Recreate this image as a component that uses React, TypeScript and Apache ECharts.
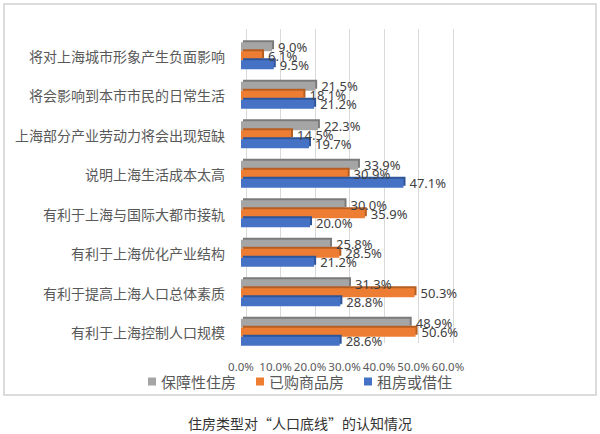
import React, { useEffect, useRef } from "react";
import * as echarts from "echarts";

const categories = [
  "将对上海城市形象产生负面影响",
  "将会影响到本市市民的日常生活",
  "上海部分产业劳动力将会出现短缺",
  "说明上海生活成本太高",
  "有利于上海与国际大都市接轨",
  "有利于上海优化产业结构",
  "有利于提高上海人口总体素质",
  "有利于上海控制人口规模",
];
const seriesNames = ["保障性住房", "已购商品房", "租房或借住"];
const baozhang = [9.0, 21.5, 22.3, 33.9, 30.0, 25.8, 31.3, 48.9];
const yigou = [6.1, 18.1, 14.5, 30.9, 35.9, 28.5, 50.3, 50.6];
const zufang = [9.5, 21.2, 19.7, 47.1, 20.0, 21.2, 28.8, 28.6];
const caption = "住房类型对“人口底线”的认知情况";

const colors = ["#A5A5A5", "#ED7D31", "#4472C4"];
const darkColors = ["#7a7a7a", "#b65d20", "#2f5597"];

export default function App() {
  const ref = useRef<HTMLDivElement>(null);
  useEffect(() => {
    if (!ref.current) return;
    const chart = echarts.init(ref.current, undefined, { renderer: "svg" });
    const values = [baozhang, yigou, zufang];
    const cjk = "'Noto Sans CJK SC', 'Noto Sans', sans-serif";
    chart.setOption({
      animation: false,
      backgroundColor: "#ffffff",
      grid: [
        { left: 241, right: 152, top: 36, bottom: 82 },
        { left: 246, right: 147, top: 29, bottom: 91 },
      ],
      xAxis: [
        {
          type: "value",
          gridIndex: 0,
          min: 0,
          max: 60,
          interval: 10,
          axisLine: { show: false },
          axisTick: { show: false },
          splitLine: { show: false },
          axisLabel: {
            formatter: (v: number) => v.toFixed(1) + "%",
            color: "#595959",
            fontSize: 11.5,
            fontFamily: "'Noto Sans', sans-serif",
            margin: 8,
            showMinLabel: true,
            showMaxLabel: true,
            hideOverlap: false,
          },
        },
        {
          type: "value",
          gridIndex: 1,
          min: 0,
          max: 60,
          interval: 10,
          axisLine: { show: false },
          axisTick: { show: false },
          axisLabel: { show: false },
          splitLine: { show: true, lineStyle: { color: "#d9d9d9", width: 1 } },
        },
      ],
      yAxis: [
        {
          type: "category",
          gridIndex: 0,
          data: categories,
          inverse: true,
          axisLine: { show: false },
          axisTick: { show: false },
          axisLabel: {
            color: "#595959",
            fontSize: 14,
            fontFamily: cjk,
            margin: 16,
          },
        },
        {
          type: "category",
          gridIndex: 1,
          data: categories,
          inverse: true,
          show: false,
        },
      ],
      legend: {
        data: seriesNames,
        bottom: 40,
        left: "center",
        icon: "rect",
        itemWidth: 8,
        itemHeight: 8,
        itemGap: 20,
        textStyle: { color: "#595959", fontSize: 15, fontFamily: cjk },
      },
      title: {
        text: caption,
        left: "center",
        top: 411,
        textStyle: {
          color: "#333333",
          fontSize: 14,
          fontWeight: "normal",
          fontFamily: cjk,
        },
      },
      graphic: [
        {
          type: "rect",
          shape: { x: 4, y: 4, width: 592, height: 391 },
          style: { fill: "none", stroke: "#dcdcdc", lineWidth: 2 },
          silent: true,
          z: -10,
        },
      ],
      series: values.map((d, i) => ({
        name: seriesNames[i],
        type: "bar",
        xAxisIndex: 0,
        yAxisIndex: 0,
        data: d,
        barWidth: 9,
        barGap: "0%",
        itemStyle: {
          color: colors[i],
          shadowColor: darkColors[i],
          shadowOffsetX: 2,
          shadowOffsetY: -2,
          shadowBlur: 0,
        },
        label: {
          show: true,
          position: "right",
          distance: 6,
          color: "#404040",
          fontSize: 13,
          fontFamily: "'Noto Sans', sans-serif",
          formatter: (p: any) => Number(p.value).toFixed(1) + "%",
        },
      })),
    });
    return () => chart.dispose();
  }, []);
  return (
    <div
      ref={ref}
      style={{ position: "absolute", left: 0, top: 0, width: 600, height: 434 }}
    />
  );
}
